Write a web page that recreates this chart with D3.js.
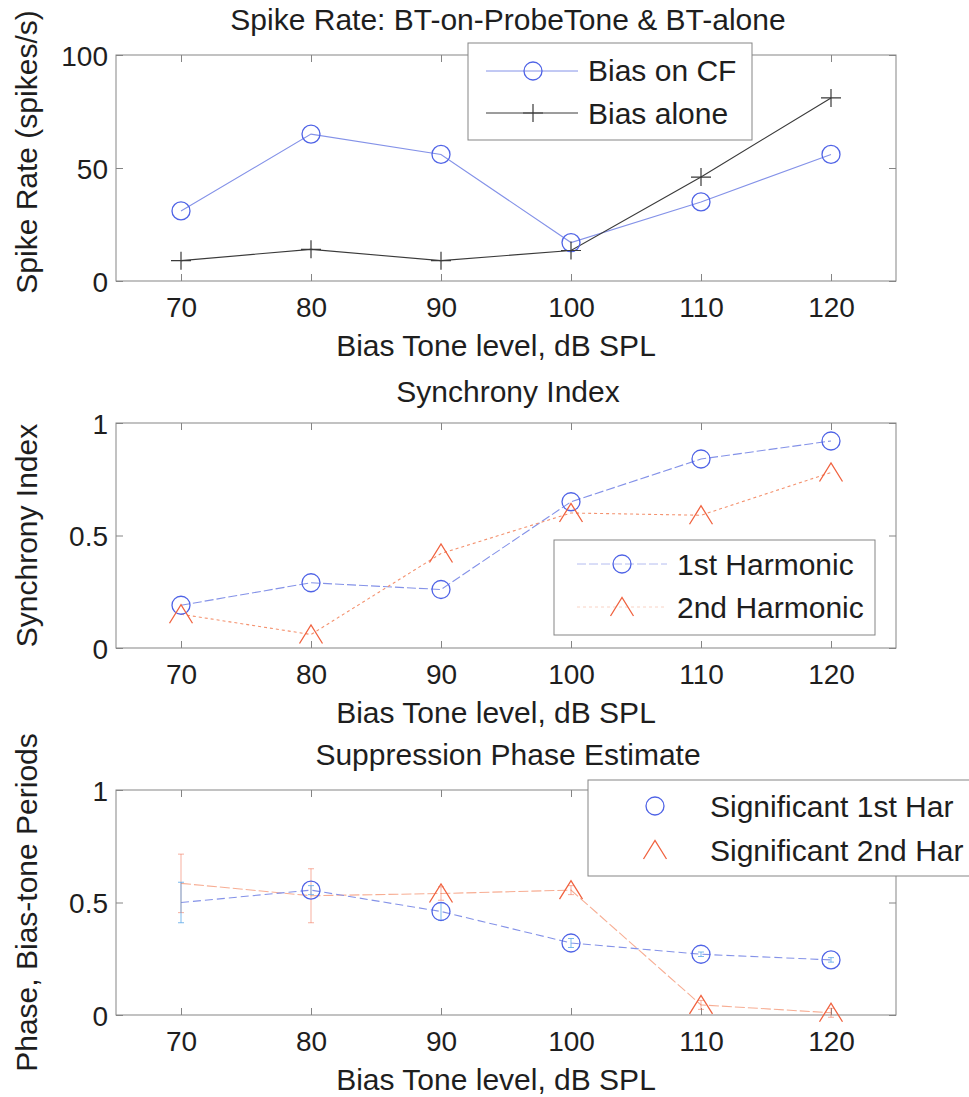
<!DOCTYPE html>
<html>
<head>
<meta charset="utf-8">
<script src="https://cdn.jsdelivr.net/npm/d3@7"></script>
<style>
  html, body { margin: 0; padding: 0; background: #fff; }
  svg { display: block; }
  text { font-family: "Liberation Sans", Arial, sans-serif; fill: #1e1e1e; }
</style>
</head>
<body>
<div id="chart"></div>
<script>
// Bias-tone levels (dB SPL)
const levels = [70, 80, 90, 100, 110, 120];
const xTicks = [70, 80, 90, 100, 110, 120];

// Spike rate (spikes/s)
const rateBiasOnCF = [31, 65, 56, 17, 35, 56];
const rateBiasAlone = [9, 14, 9, 13.5, 46, 81];
const rateTicks = [0, 50, 100];

// Synchrony index
const sync1st = [0.19, 0.29, 0.26, 0.65, 0.84, 0.92];
const sync2nd = [0.15, 0.06, 0.42, 0.60, 0.59, 0.78];
const unitTicks = [0, 0.5, 1];

// Suppression phase estimate (bias-tone periods), error and significance
const phase1st = [0.50, 0.555, 0.46, 0.32, 0.27, 0.245];
const phase1stErr = [0.09, 0.02, 0.04, 0.02, 0.01, 0.01];
const phase1stSig = [false, true, true, true, true, true];
const phase2nd = [0.585, 0.53, 0.54, 0.555, 0.045, 0.01];
const phase2ndErr = [0.13, 0.12, 0.03, 0.02, 0.02, 0.02];
const phase2ndSig = [false, false, true, true, true, true];

const W = 969, H = 1097;
const BLUE = "#4f63e6", BLUE_LINE = "#8492e8";
const RED = "#f0623f", RED_LINE = "#f4926f";
const DARK = "#3a3a3a";
const AXIS = "#858585";
const TICK_FS = 28, LABEL_FS = 30, LEGEND_FS = 30;

const svg = d3.select("#chart").append("svg")
  .attr("width", W).attr("height", H);
svg.append("rect").attr("width", W).attr("height", H).attr("fill", "#fff");

const left = 116, right = 896;
const x = d3.scaleLinear().domain([65, 125]).range([left, right]);

function makePanel(top, bottom, yDomain, yTicks, yFmt, title, titleOffset, ylabel, ylabelShift) {
  const y = d3.scaleLinear().domain(yDomain).range([bottom, top]);
  const g = svg.append("g");
  // box
  g.append("rect").attr("x", left).attr("y", top)
    .attr("width", right - left).attr("height", bottom - top)
    .attr("fill", "none").attr("stroke", AXIS).attr("stroke-width", 1);
  // bottom axis (inward ticks) with labels
  const xb = d3.axisBottom(x).tickValues(xTicks).tickSize(-7);
  const gx = g.append("g").attr("transform", `translate(0,${bottom})`).call(xb);
  gx.select(".domain").remove();
  gx.selectAll(".tick line").attr("stroke", AXIS);
  gx.selectAll(".tick text").attr("font-size", TICK_FS).attr("dy", null)
    .attr("y", 36).attr("fill", "#1e1e1e");
  // top axis ticks
  const xt = d3.axisTop(x).tickValues(xTicks).tickSize(-7).tickFormat("");
  const gxt = g.append("g").attr("transform", `translate(0,${top})`).call(xt);
  gxt.select(".domain").remove();
  gxt.selectAll(".tick line").attr("stroke", AXIS);
  // left axis
  const yl = d3.axisLeft(y).tickValues(yTicks).tickSize(-7).tickFormat(yFmt);
  const gy = g.append("g").attr("transform", `translate(${left},0)`).call(yl);
  gy.select(".domain").remove();
  gy.selectAll(".tick line").attr("stroke", AXIS);
  gy.selectAll(".tick text").attr("font-size", TICK_FS).attr("fill", "#1e1e1e")
    .attr("x", -8).attr("dy", "0.36em");
  // right axis ticks
  const yr = d3.axisRight(y).tickValues(yTicks).tickSize(-7).tickFormat("");
  const gyr = g.append("g").attr("transform", `translate(${right},0)`).call(yr);
  gyr.select(".domain").remove();
  gyr.selectAll(".tick line").attr("stroke", AXIS);
  // title
  g.append("text").attr("x", (left + right) / 2 + 2).attr("y", top - titleOffset)
    .attr("text-anchor", "middle").attr("font-size", LABEL_FS).text(title);
  // x label
  g.append("text").attr("x", (left + right) / 2 - 10).attr("y", bottom + 75)
    .attr("text-anchor", "middle").attr("font-size", LABEL_FS).text("Bias Tone level, dB SPL");
  // y label
  g.append("text")
    .attr("transform", `translate(37,${(top + bottom) / 2 + (ylabelShift || 0)}) rotate(-90)`)
    .attr("text-anchor", "middle").attr("font-size", LABEL_FS).text(ylabel);
  return { g, y };
}

function drawLine(g, y, vals, color, dash, width, opacity) {
  const line = d3.line().x((d, i) => x(levels[i])).y(d => y(d));
  g.append("path").datum(vals).attr("d", line)
    .attr("fill", "none").attr("stroke", color)
    .attr("stroke-width", width || 1.2)
    .attr("stroke-dasharray", dash || null)
    .attr("opacity", opacity == null ? 1 : opacity);
}

function circleAt(g, cx, cy, color) {
  g.append("circle").attr("cx", cx).attr("cy", cy).attr("r", 9)
    .attr("fill", "none").attr("stroke", color).attr("stroke-width", 1.3);
}
function plusAt(g, cx, cy, color) {
  g.append("path").attr("d", `M${cx - 10},${cy}H${cx + 10}M${cx},${cy - 9}V${cy + 9}`)
    .attr("stroke", color).attr("stroke-width", 1.2).attr("fill", "none");
}
function triAt(g, cx, cy, color) {
  g.append("path")
    .attr("d", `M${cx - 11.5},${cy + 9}L${cx},${cy - 9.5}L${cx + 11.5},${cy + 9}`)
    .attr("stroke", color).attr("stroke-width", 1.3).attr("fill", "none");
}
function errAt(g, y, xv, v, e, color, opacity) {
  const cx = x(xv);
  g.append("path")
    .attr("d", `M${cx},${y(v - e)}V${y(v + e)}M${cx - 3},${y(v - e)}H${cx + 3}M${cx - 3},${y(v + e)}H${cx + 3}`)
    .attr("stroke", color).attr("stroke-width", 1).attr("fill", "none")
    .attr("opacity", opacity == null ? 1 : opacity);
}

function legendBox(x0, y0, x1, y1) {
  svg.append("rect").attr("x", x0).attr("y", y0).attr("width", x1 - x0).attr("height", y1 - y0)
    .attr("fill", "#fff").attr("stroke", AXIS).attr("stroke-width", 1);
}
function legendText(tx, ty, label) {
  svg.append("text").attr("x", tx).attr("y", ty).attr("font-size", LEGEND_FS).text(label);
}

// ---- Panel 1: spike rate ----
const p1 = makePanel(55, 281, [0, 100], rateTicks, d3.format("d"),
  "Spike Rate: BT-on-ProbeTone & BT-alone", 25, "Spike Rate (spikes/s)", -16);
drawLine(p1.g, p1.y, rateBiasOnCF, BLUE_LINE, null, 1.1);
drawLine(p1.g, p1.y, rateBiasAlone, DARK, null, 1.1);
rateBiasOnCF.forEach((v, i) => circleAt(p1.g, x(levels[i]), p1.y(v), BLUE));
rateBiasAlone.forEach((v, i) => plusAt(p1.g, x(levels[i]), p1.y(v), DARK));

legendBox(468, 43, 752, 140);
svg.append("line").attr("x1", 486).attr("x2", 578).attr("y1", 71).attr("y2", 71)
  .attr("stroke", BLUE_LINE).attr("stroke-width", 1);
circleAt(svg, 533, 71, BLUE);
svg.append("line").attr("x1", 486).attr("x2", 578).attr("y1", 113).attr("y2", 113)
  .attr("stroke", DARK).attr("stroke-width", 1);
plusAt(svg, 533, 113, DARK);
legendText(588, 81, "Bias on CF");
legendText(588, 124, "Bias alone");

// ---- Panel 2: synchrony index ----
const fmtUnit = d => d === 0 ? "0" : d === 1 ? "1" : d3.format(".1f")(d);
const p2 = makePanel(423, 648, [0, 1], unitTicks, fmtUnit,
  "Synchrony Index", 21, "Synchrony Index", 0);
drawLine(p2.g, p2.y, sync1st, BLUE_LINE, "9,3", 1.1);
drawLine(p2.g, p2.y, sync2nd, RED_LINE, "3,3", 1.1);
sync1st.forEach((v, i) => circleAt(p2.g, x(levels[i]), p2.y(v), BLUE));
sync2nd.forEach((v, i) => triAt(p2.g, x(levels[i]), p2.y(v), RED));

legendBox(554, 540, 875, 635);
svg.append("line").attr("x1", 577).attr("x2", 667).attr("y1", 564).attr("y2", 564)
  .attr("stroke", BLUE_LINE).attr("stroke-width", 1).attr("stroke-dasharray", "9,3").attr("opacity", 0.6);
circleAt(svg, 622, 564, BLUE);
svg.append("line").attr("x1", 577).attr("x2", 667).attr("y1", 607).attr("y2", 607)
  .attr("stroke", RED_LINE).attr("stroke-width", 1).attr("stroke-dasharray", "3,3").attr("opacity", 0.4);
triAt(svg, 622, 607, RED);
legendText(677, 575, "1st Harmonic");
legendText(677, 618, "2nd Harmonic");

// ---- Panel 3: suppression phase estimate ----
const p3 = makePanel(790, 1015, [0, 1], unitTicks, fmtUnit,
  "Suppression Phase Estimate", 25, "Phase, Bias-tone Periods", 0);
drawLine(p3.g, p3.y, phase2nd, RED_LINE, "10,3", 1.1, 0.75);
drawLine(p3.g, p3.y, phase1st, BLUE_LINE, "8,4", 1.1);
phase2nd.forEach((v, i) => errAt(p3.g, p3.y, levels[i], v, phase2ndErr[i], RED, 0.5));
phase1st.forEach((v, i) => errAt(p3.g, p3.y, levels[i], v, phase1stErr[i], "#5aa8e8", 0.8));
phase1st.forEach((v, i) => { if (phase1stSig[i]) circleAt(p3.g, x(levels[i]), p3.y(v), BLUE); });
phase2nd.forEach((v, i) => { if (phase2ndSig[i]) triAt(p3.g, x(levels[i]), p3.y(v), RED); });

legendBox(588, 780, 980, 876);
circleAt(svg, 655, 806, BLUE);
triAt(svg, 655, 850, RED);
legendText(710, 817, "Significant 1st Har");
legendText(710, 861, "Significant 2nd Har");
</script>
</body>
</html>
